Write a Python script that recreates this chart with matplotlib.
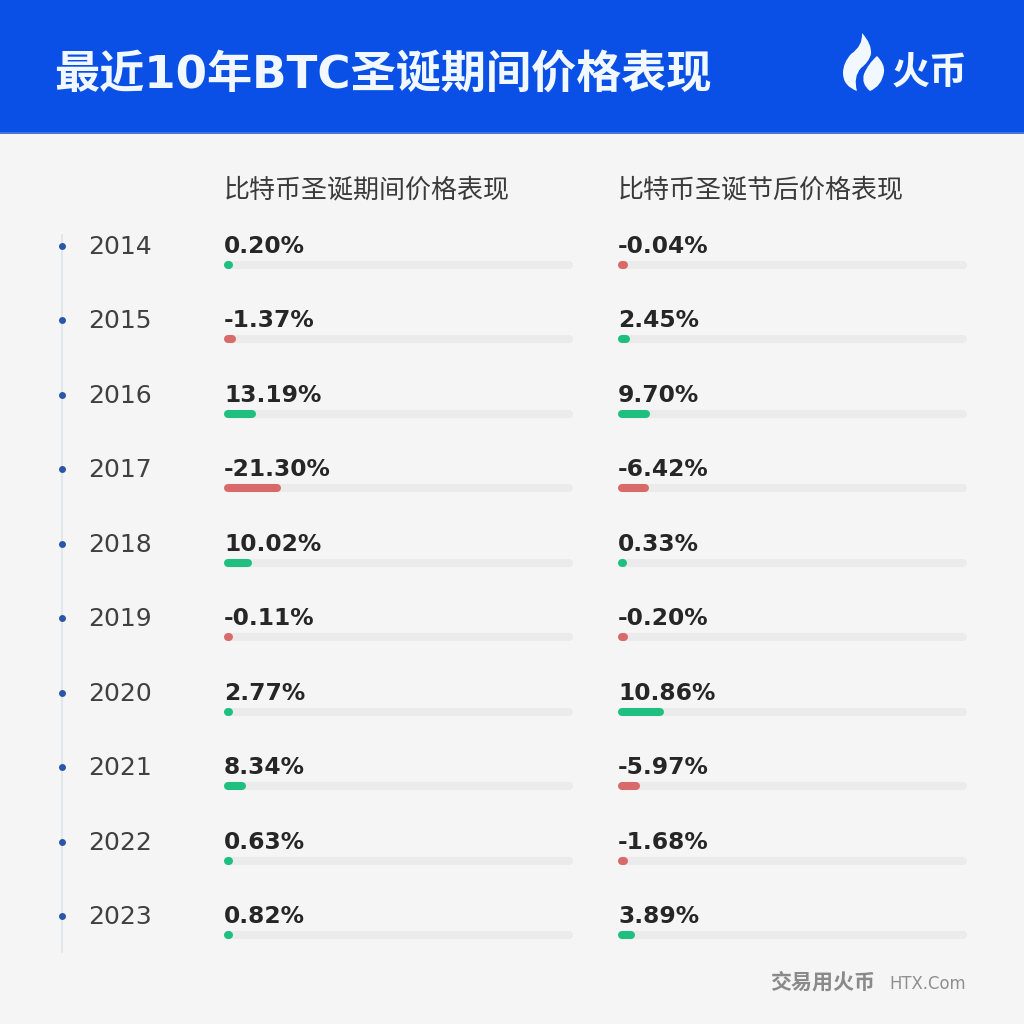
import matplotlib
matplotlib.use('Agg')
from matplotlib import pyplot as plt
from matplotlib.patches import Rectangle, PathPatch
from matplotlib.path import Path

years = ['2014', '2015', '2016', '2017', '2018', '2019', '2020', '2021', '2022', '2023']
during_labels = ['0.20%', '-1.37%', '13.19%', '-21.30%', '10.02%', '-0.11%', '2.77%', '8.34%', '0.63%', '0.82%']
after_labels = ['-0.04%', '2.45%', '9.70%', '-6.42%', '0.33%', '-0.20%', '10.86%', '-5.97%', '-1.68%', '3.89%']

# bar lengths as drawn in the picture, they are not proportional to the values
during_len = [1, 4, 24, 49, 20, 1, 1, 14, 1, 1]
after_len = [2, 4, 24, 23, 0.5, 2, 38, 14, 2, 9]

GREEN = '#1fc07f'
RED = '#d96a6a'
TRACK = '#ebebeb'
DARK = '#262626'
WHITE = '#f2f8ff'

plt.rcParams['font.family'] = ['Noto Sans CJK SC', 'DejaVu Sans']

fig = plt.figure(figsize=(10.24, 10.24), dpi=100, facecolor='#f5f5f5')
ax = fig.add_axes([0, 0, 1, 1])
ax.set_xlim(0, 1024)
ax.set_ylim(1024, 0)
ax.axis('off')


def px(size):
    return size * 0.72


# header
ax.add_patch(Rectangle((0, 0), 1024, 132, color='#0a50e6', lw=0))
ax.add_patch(Rectangle((0, 132), 1024, 2, color='#3f78dc', lw=0))
ax.text(54, 75, '最近10年BTC圣诞期间价格表现', color=WHITE, fontsize=px(45.2),
        fontweight='bold', family=['DejaVu Sans', 'Noto Sans CJK SC'], va='center', ha='left')

# logo flame
flame = Path(
    [(862, 33), (872, 44), (871, 54), (869, 62), (861, 68), (853, 77), (857, 91),
     (843, 86), (843, 73), (843, 63), (851, 54), (863, 46), (862, 33),
     (877, 56), (885, 64), (884, 72), (882, 86), (870, 91), (861, 84), (864, 74),
     (868, 64), (877, 56)],
    [Path.MOVETO] + [Path.CURVE3] * 12 + [Path.MOVETO] + [Path.CURVE3] * 8)
ax.add_patch(PathPatch(flame, facecolor=WHITE, edgecolor='none'))
ax.text(892, 72, '火币', color=WHITE, fontsize=px(38), fontweight='bold', va='center', ha='left')

# column headers
ax.text(224, 190, '比特币圣诞期间价格表现', color='#3a3a3a', fontsize=px(26), va='center', ha='left')
ax.text(618, 190, '比特币圣诞节后价格表现', color='#3a3a3a', fontsize=px(26), va='center', ha='left')

# timeline
ax.plot([62, 62], [235, 952], color='#dfe3ea', lw=1.2, zorder=1)

row_top = 246
row_step = 74.45
for i, year in enumerate(years):
    y = row_top + i * row_step
    ax.plot(62, y, 'o', color='#2a56a8', ms=5, mec='none', zorder=2)
    ax.text(88, y + 1, year, color='#404040', fontsize=px(25), family='DejaVu Sans',
            va='center', ha='left')

    for x0, x1, label, length in ((224, 573, during_labels[i], during_len[i]),
                                  (618, 967, after_labels[i], after_len[i])):
        bar_y = y + 19
        color = RED if label.startswith('-') else GREEN
        ax.plot([x0 + 4, x1 - 4], [bar_y, bar_y], color=TRACK, lw=5.8,
                solid_capstyle='round', zorder=2)
        ax.plot([x0 + 4, x0 + 4 + length], [bar_y, bar_y], color=color, lw=5.8,
                solid_capstyle='round', zorder=3)
        ax.text(x0, y + 0.5, label, color=DARK, fontsize=px(23.4), fontweight='bold',
                family='DejaVu Sans', va='center', ha='left')

# footer
ax.text(770, 982, '交易用火币', color='#8a8a8a', fontsize=px(21), fontweight='bold',
        va='center', ha='left')
ax.text(889, 984, 'HTX.Com', color='#8f8f8f', fontsize=px(16.5), family='DejaVu Sans',
        va='center', ha='left')

fig.savefig('out.png', dpi=100, facecolor=fig.get_facecolor())
